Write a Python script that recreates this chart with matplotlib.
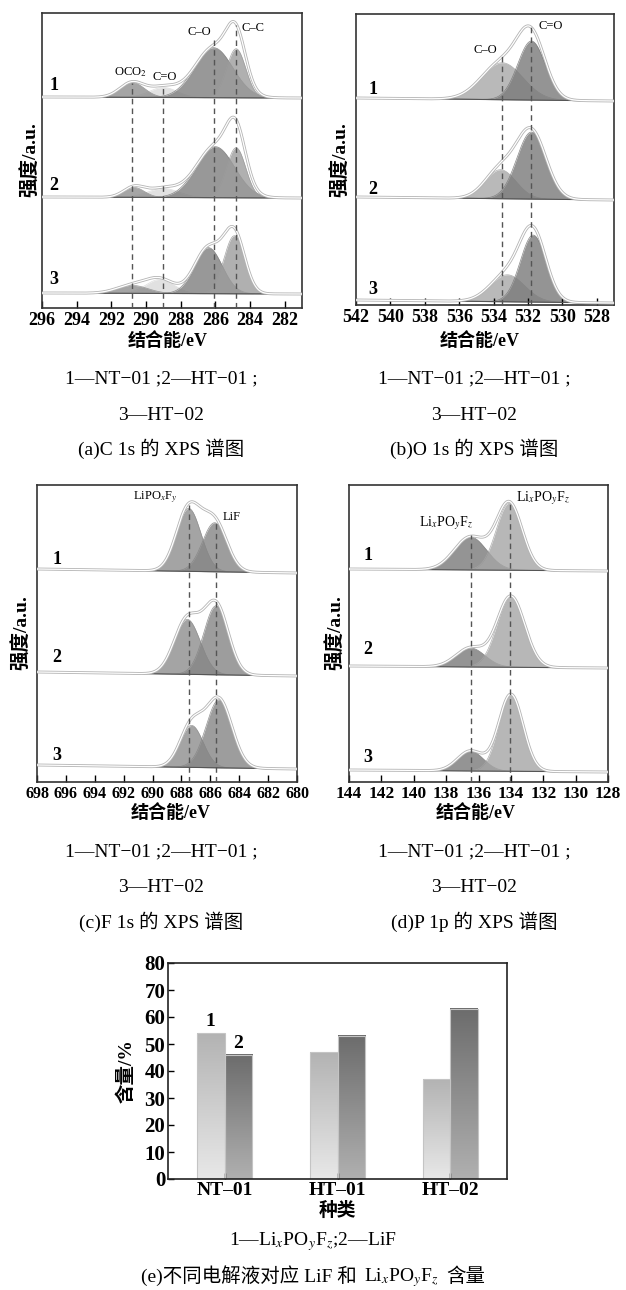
import matplotlib
matplotlib.use('Agg')
import matplotlib.pyplot as plt
import numpy as np
from matplotlib.colors import LinearSegmentedColormap
from matplotlib.offsetbox import TextArea, HPacker, AnchoredOffsetbox

plt.rcParams['mathtext.fontset'] = 'stix'
SERIF = ['Liberation Serif', 'Noto Sans CJK SC']

# ---------------- datos ----------------
# (a) C 1s : orden de componentes  C=O, OCO2, C-O, C-C
c1s_centros = [[289.0, 290.8, 286.1, 284.8],
               [289.0, 290.7, 286.0, 284.8],
               [289.2, 290.8, 286.4, 284.9]]
c1s_alturas = [[10, 15, 50, 49],
               [9, 10, 51, 50],
               [14, 8, 46, 58]]
c1s_anchos = [[0.8, 0.7, 1.1, 0.55],
              [0.9, 0.6, 1.1, 0.55],
              [0.8, 0.9, 0.8, 0.6]]
c1s_lineas = [290.8, 289.0, 286.1, 284.8]

# (b) O 1s : C-O, C=O
o1s_centros = [[533.5, 531.8], [533.6, 531.8], [533.2, 531.7]]
o1s_alturas = [[37, 59], [29, 67], [27, 67]]
o1s_anchos = [[1.2, 0.8], [0.9, 0.85], [1.0, 0.75]]
o1s_lineas = [533.5, 531.85]

# (c) F 1s : LiPOxFy, LiF
f1s_centros = [[687.5, 685.7], [687.6, 685.6], [687.3, 685.4]]
f1s_alturas = [[63, 49], [55, 69], [42, 68]]
f1s_anchos = [[0.85, 0.85], [0.9, 0.85], [0.8, 0.9]]
f1s_lineas = [687.5, 685.6]

# (d) P : LixPOyFz (136.5), LixPOyFz (134)
p_centros = [[136.5, 134.1], [136.5, 134.0], [136.5, 134.0]]
p_alturas = [[33, 67], [19, 71], [20, 77]]
p_anchos = [[1.0, 0.8], [0.9, 0.85], [0.8, 0.75]]
p_lineas = [136.45, 134.06]

# (e) contenido
categorias = ['NT\u201301', 'HT\u201301', 'HT\u201302']
lixpoyfz = [54, 47, 37]
lif = [46, 53, 63]

# ---------------- figura ----------------
W, H = 626, 1290
fig = plt.figure(figsize=(W / 100, H / 100), dpi=100)


def ejes_px(l, t, r, b):
    return fig.add_axes([l / W, 1 - b / H, (r - l) / W, (b - t) / H])


def texto(x, y, s, **kw):
    fig.text(x / W, 1 - y / H, s, **kw)


def dibujar_xps(ax, xlim, centros, alturas, anchos, colores, bases, incl, lineas, topes, ticks, fs):
    x = np.linspace(xlim[0], xlim[1], 900)
    frac = (x - xlim[0]) / (xlim[1] - xlim[0])
    for k in range(3):
        bg = bases[k] - incl * frac
        total = np.zeros_like(x)
        ax.plot(x, bg, color='#555555', lw=0.8, zorder=2)
        for c, h, s, col in zip(centros[k], alturas[k], anchos[k], colores):
            g = h * np.exp(-0.5 * ((x - c) / s) ** 2)
            total += g
            ax.fill_between(x, bg, bg + g, color=col, alpha=0.8, lw=0, zorder=1)
            ax.plot(x, bg + g, color=col, lw=0.5, alpha=0.9, zorder=1)
        ax.plot(x, bg + total, color='#b4b4b4', lw=2.1, zorder=3)
        ax.plot(x, bg + total, color='white', lw=0.9, zorder=4)
    for c, tope in zip(lineas, topes):
        ax.plot([c, c], [0, tope], color='#555555', lw=1.0, ls=(0, (4, 3)), zorder=5)
    ax.set_xlim(*xlim)
    ax.set_xticks(ticks)
    ax.set_yticks([])
    ax.tick_params(axis='x', direction='in', length=5, width=1, pad=3, labelsize=fs)
    for lab in ax.get_xticklabels():
        lab.set_family('Liberation Serif')
        lab.set_fontweight('bold')
    for sp in ax.spines.values():
        sp.set_linewidth(1.2)
        sp.set_color('#333333')


def numeros(ax, xpos, ys):
    for n, y in zip(['1', '2', '3'], ys):
        ax.text(xpos, y, n, fontsize=13, family='Liberation Serif', fontweight='bold',
                ha='center', va='center', zorder=6)


def etiqueta_pico(ax, x, y, s, fs=9):
    ax.text(x, y, s, fontsize=fs, family='Liberation Serif', ha='center', va='center', zorder=6)


def pie(xc, y0, titulo):
    texto(xc, y0, '1\u2014NT\u221201 ;2\u2014HT\u221201 ;', fontsize=14, family=SERIF, ha='center', va='center')
    texto(xc, y0 + 36, '3\u2014HT\u221202', fontsize=14, family=SERIF, ha='center', va='center')
    texto(xc, y0 + 70, titulo, fontsize=14, family=SERIF, ha='center', va='center')


def etiqueta_y(x, y, s):
    texto(x, y, s, rotation=90, fontsize=14, family=SERIF, fontweight='bold', ha='center', va='center')


# (a)
ax = ejes_px(42, 13, 302, 308)
ax.set_ylim(0, 295)
dibujar_xps(ax, (296, 281), c1s_centros, c1s_alturas, c1s_anchos,
            ['#dadada', '#8f8f8f', '#7f7f7f', '#9c9c9c'], [211, 111, 15], 1,
            c1s_lineas, [225, 221, 268, 283], np.arange(296, 281, -2), 13)
numeros(ax, 295.3, [222, 123, 28])
etiqueta_pico(ax, 290.9, 236, 'OCO$_2$')
etiqueta_pico(ax, 288.9, 231, 'C=O')
etiqueta_pico(ax, 286.9, 276, 'C\u2013O')
etiqueta_pico(ax, 283.8, 280, 'C\u2013C')
etiqueta_y(31, 160, '强度/a.u.')
texto(168, 341, '结合能/eV', fontsize=13, family=SERIF, fontweight='bold', ha='center', va='center')
pie(161, 379, '(a)C 1s 的 XPS 谱图')

# (b)
ax = ejes_px(356, 14, 614, 305)
ax.set_ylim(0, 291)
dibujar_xps(ax, (542, 527), o1s_centros, o1s_alturas, o1s_anchos,
            ['#a8a8a8', '#7a7a7a'], [207, 108, 5], 3,
            o1s_lineas, [250, 278], np.arange(542, 527, -2), 13)
numeros(ax, 541.0, [215, 116, 15])
etiqueta_pico(ax, 534.5, 255, 'C\u2013O')
etiqueta_pico(ax, 530.7, 279, 'C=O')
etiqueta_y(341, 160, '强度/a.u.')
texto(480, 341, '结合能/eV', fontsize=13, family=SERIF, fontweight='bold', ha='center', va='center')
pie(474, 379, '(b)O 1s 的 XPS 谱图')

# (c)
ax = ejes_px(37, 485, 297, 782)
ax.set_ylim(0, 297)
dibujar_xps(ax, (698, 680), f1s_centros, f1s_alturas, f1s_anchos,
            ['#8e8e8e', '#858585'], [213, 110, 17], 4,
            f1s_lineas, [277, 262], np.arange(698, 679, -2), 11.5)
numeros(ax, 696.6, [222, 124, 27])
etiqueta_pico(ax, 689.8, 285, 'LiPO$_x$F$_y$', 9)
etiqueta_pico(ax, 684.5, 265, 'LiF', 9)
etiqueta_y(22, 633, '强度/a.u.')
texto(171, 813, '结合能/eV', fontsize=13, family=SERIF, fontweight='bold', ha='center', va='center')
pie(161, 852, '(c)F 1s 的 XPS 谱图')

# (d)
ax = ejes_px(349, 485, 608, 782)
ax.set_ylim(0, 297)
dibujar_xps(ax, (144, 128), p_centros, p_alturas, p_anchos,
            ['#7a7a7a', '#a5a5a5'], [213, 116, 12], 2,
            p_lineas, [247, 282], np.arange(144, 127, -2), 12.5)
numeros(ax, 142.85, [226, 132, 25])
etiqueta_pico(ax, 138.0, 259, 'Li$_x$PO$_y$F$_z$', 10)
etiqueta_pico(ax, 132.0, 284, 'Li$_x$PO$_y$F$_z$', 10)
etiqueta_y(336, 633, '强度/a.u.')
texto(476, 813, '结合能/eV', fontsize=13, family=SERIF, fontweight='bold', ha='center', va='center')
pie(474, 852, '(d)P 1p 的 XPS 谱图')

# (e)
ax = ejes_px(168, 963, 507, 1179)
xs = np.arange(len(categorias))
w = 0.246


def barra_grad(ax, xc, h, c_arriba, c_abajo):
    cmap = LinearSegmentedColormap.from_list('g', [c_abajo, c_arriba])
    grad = np.linspace(0, 1, 256).reshape(-1, 1)
    ax.imshow(grad, extent=(xc - w / 2, xc + w / 2, 0, h), origin='lower', cmap=cmap,
              aspect='auto', zorder=1)
    ax.bar(xc, h, w, color='none', edgecolor='#c4c4c4', lw=0.8, zorder=2)


for i in xs:
    barra_grad(ax, i - w / 2, lixpoyfz[i], '#b3b3b3', '#e8e8e8')
    barra_grad(ax, i + w / 2, lif[i], '#6c6c6c', '#b0b0b0')
ax.annotate('1', (xs[0] - w / 2, lixpoyfz[0]), xytext=(0, 2), textcoords='offset points',
            ha='center', va='bottom', fontsize=14, family='Liberation Serif', fontweight='bold')
ax.annotate('2', (xs[0] + w / 2, lif[0]), xytext=(0, 2), textcoords='offset points',
            ha='center', va='bottom', fontsize=14, family='Liberation Serif', fontweight='bold')
ax.set_xlim(-0.5, 2.5)
ax.set_ylim(0, 80)
ax.set_yticks(np.arange(0, 81, 10))
ax.set_xticks(xs)
ax.set_xticklabels(categorias)
ax.tick_params(axis='y', direction='in', length=4, width=1, pad=2, labelsize=15)
ax.tick_params(axis='x', direction='in', length=4, width=1, pad=2, labelsize=14)
for lab in ax.get_xticklabels() + ax.get_yticklabels():
    lab.set_family('Liberation Serif')
    lab.set_fontweight('bold')
for sp in ax.spines.values():
    sp.set_linewidth(1.2)
    sp.set_color('#222222')
etiqueta_y(126, 1071, '含量/%')
texto(337, 1211, '种类', fontsize=13.5, family=SERIF, fontweight='bold', ha='center', va='center')
texto(313, 1242, '1\u2014Li$_x$PO$_y$F$_z$;2\u2014LiF', fontsize=14, family='Liberation Serif',
      ha='center', va='center')

partes = [TextArea('(e)不同电解液对应 LiF 和', textprops=dict(fontsize=14, family=SERIF)),
          TextArea('Li$_x$PO$_y$F$_z$', textprops=dict(fontsize=14, family='Liberation Serif')),
          TextArea('含量', textprops=dict(fontsize=14, family=SERIF))]
fila = HPacker(children=partes, align='baseline', pad=0, sep=5)
caja = AnchoredOffsetbox(loc='center', child=fila, pad=0, borderpad=0, frameon=False,
                         bbox_to_anchor=(313 / W, 1 - 1277 / H), bbox_transform=fig.transFigure)
fig.add_artist(caja)

fig.savefig('out.png', dpi=100)
